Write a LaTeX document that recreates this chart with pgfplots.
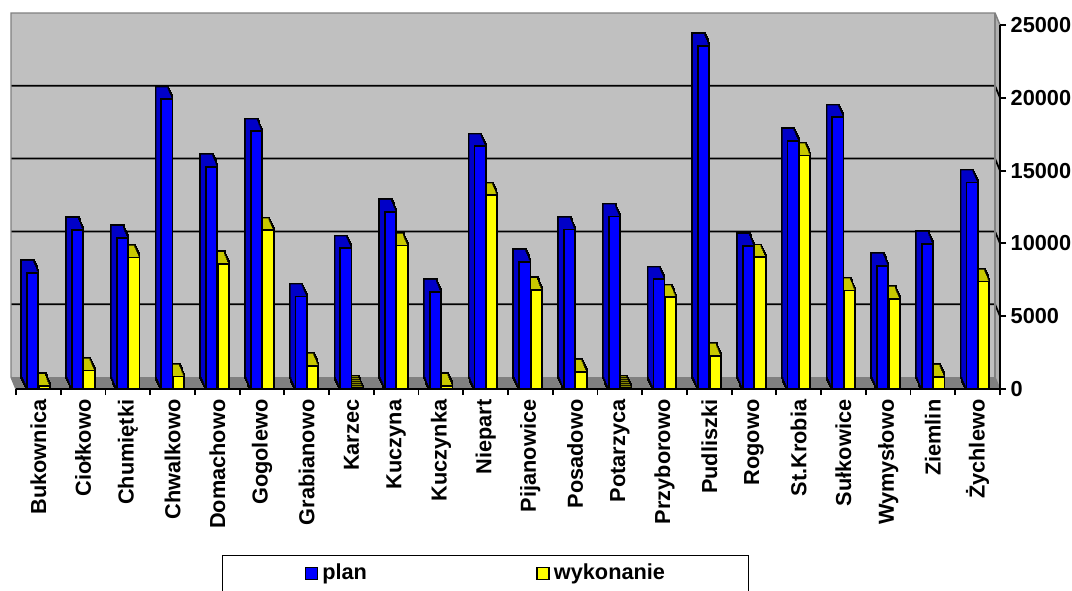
\documentclass[border=0pt]{standalone}
\usepackage{fontspec}
\setmainfont{Liberation Sans}
\usepackage{pgfplots}
\usepackage{pgfplotstable}
\pgfplotsset{compat=1.18}
\definecolor{planblue}{RGB}{0,0,255}
\definecolor{plandark}{RGB}{0,0,200}
\definecolor{wykyel}{RGB}{255,255,0}
\definecolor{wykdark}{RGB}{200,200,0}
\definecolor{wallgray}{RGB}{192,192,192}
\definecolor{sidegray}{RGB}{176,176,176}
\definecolor{floorgray}{RGB}{128,128,128}
\definecolor{edgegray}{RGB}{128,128,128}
\pgfplotstableread{
i plan wyk
0 7970 200
1 10920 1270
2 10370 9030
3 19900 850
4 15270 8580
5 17700 10900
6 6360 1600
7 9660 50
8 12170 9850
9 6670 200
10 16670 13300
11 8730 6790
12 10950 1180
13 11850 50
14 7530 6300
15 23550 2290
16 9820 9050
17 17030 16040
18 18660 6770
19 8470 6200
20 9960 840
21 14190 7380
}\data
\pgfplotsset{
 bb/.style={ybar, bar width=0.25, forget plot},
 outl/.style={fill=black, draw=black, line width=2.6pt},
 planS/.style={bar shift=-0.125},
 wykS/.style={bar shift=0.135},
}
\newcommand{\depth}[2]{%
\addplot[bb,#2,xshift=-0.625pt,yshift=1.5pt] table[x=i,y=#1]{\data};
\addplot[bb,#2,xshift=-1.25pt,yshift=3pt] table[x=i,y=#1]{\data};
\addplot[bb,#2,xshift=-1.875pt,yshift=4.5pt] table[x=i,y=#1]{\data};
\addplot[bb,#2,xshift=-2.5pt,yshift=6pt] table[x=i,y=#1]{\data};
\addplot[bb,#2,xshift=-3.125pt,yshift=7.5pt] table[x=i,y=#1]{\data};
\addplot[bb,#2,xshift=-3.75pt,yshift=9pt] table[x=i,y=#1]{\data};
}
\newcommand{\lf}{\fontsize{16.3}{19}\selectfont\bfseries}
\begin{document}
\begin{tikzpicture}
\useasboundingbox (0,0) rectangle (804pt,442.5pt);
\begin{axis}[
 at={(12pt,150.75pt)}, anchor=south west,
 scale only axis, width=738pt, height=273pt,
 xmin=-0.5, xmax=21.5, ymin=0, ymax=25000,
 clip=false, axis on top,
 axis x line*=bottom, axis y line*=right,
 axis line style={black, line width=1.4pt, -},
 tick align=outside,
 major tick length=4.5pt, minor tick length=4.5pt,
 xtick={0,...,21},
 xticklabels={Bukownica,Ciołkowo,Chumiętki,Chwalkowo,Domachowo,Gogolewo,Grabianowo,Karzec,Kuczyna,Kuczynka,Niepart,Pijanowice,Posadowo,Potarzyca,Przyborowo,Pudliszki,Rogowo,St.Krobia,Sułkowice,Wymysłowo,Ziemlin,Żychlewo},
 minor xtick={-0.5,0.5,...,21.5},
 major x tick style={draw=none},
 minor x tick style={black, line width=1.4pt},
 ytick={0,5000,10000,15000,20000,25000},
 scaled y ticks=false,
 ytick style={black, line width=1.4pt},
 /pgf/number format/1000 sep={},
 /pgf/number format/assume math mode=true,
 ticklabel style={font=\lf},
 xticklabel style={rotate=90, anchor=east},
 yticklabel style={anchor=west},
 legend columns=2,
 legend cell align=left,
 legend style={at={(0.2093,-0.456)}, anchor=north west, draw=black, line width=1.1pt, fill=white,
   inner xsep=61.5pt, inner ysep=6pt, font=\lf, nodes={inner xsep=1pt, inner ysep=0pt, text depth=12pt},
   /tikz/every even column/.append style={column sep=126pt},
   /tikz/every odd column/.append style={column sep=2pt}},
]
% walls and floor
\fill[wallgray] ([xshift=-3.75pt,yshift=9pt]axis cs:-0.5,0) rectangle ([xshift=-3.75pt,yshift=9pt]axis cs:21.5,25000);
\fill[sidegray] (axis cs:21.5,0) -- (axis cs:21.5,25000) -- ([xshift=-3.75pt,yshift=9pt]axis cs:21.5,25000) -- ([xshift=-3.75pt,yshift=9pt]axis cs:21.5,0) -- cycle;
\fill[floorgray] (axis cs:-0.5,0) -- (axis cs:21.5,0) -- ([xshift=-3.75pt,yshift=9pt]axis cs:21.5,0) -- ([xshift=-3.75pt,yshift=9pt]axis cs:-0.5,0) -- cycle;
\pgfplotsinvokeforeach{5000,10000,15000,20000}{
 \draw[black, line width=1.3pt] ([xshift=-3.75pt,yshift=9pt]axis cs:-0.5,#1) -- ([xshift=-3.75pt,yshift=9pt]axis cs:21.5,#1) -- (axis cs:21.5,#1);
}
\draw[edgegray, line width=1.1pt] (axis cs:-0.5,0) -- ([xshift=-3.75pt,yshift=9pt]axis cs:-0.5,0) -- ([xshift=-3.75pt,yshift=9pt]axis cs:-0.5,25000) -- ([xshift=-3.75pt,yshift=9pt]axis cs:21.5,25000) -- (axis cs:21.5,25000);
\draw[edgegray, line width=0.8pt] ([xshift=-3.75pt,yshift=9pt]axis cs:21.5,0) -- ([xshift=-3.75pt,yshift=9pt]axis cs:21.5,25000);
\draw[edgegray, line width=0.8pt] ([xshift=-3.75pt,yshift=9pt]axis cs:21.5,0) -- (axis cs:21.5,0);
% depth of bars
\depth{wyk}{wykS,outl}
\depth{wyk}{wykS,fill=wykdark,draw=none}
\depth{plan}{planS,outl}
\depth{plan}{planS,fill=plandark,draw=none}
% front faces
\addplot[ybar, bar width=0.25, bar shift=-0.125, fill=planblue, draw=black, line width=1.3pt,
  legend image code/.code={\draw[fill=planblue, draw=black, line width=1.1pt] (0pt,0pt) rectangle (9pt,9pt); \path (0pt,-9.5pt);}]
  table[x=i,y=plan]{\data};
\addlegendentry{plan}
\addplot[ybar, bar width=0.25, bar shift=0.135, fill=wykyel, draw=black, line width=1.3pt,
  legend image code/.code={\draw[fill=wykyel, draw=black, line width=1.1pt] (0pt,0pt) rectangle (9pt,9pt); \path (0pt,-9.5pt);}]
  table[x=i,y=wyk]{\data};
\addlegendentry{wykonanie}
\end{axis}
\end{tikzpicture}
\end{document}
